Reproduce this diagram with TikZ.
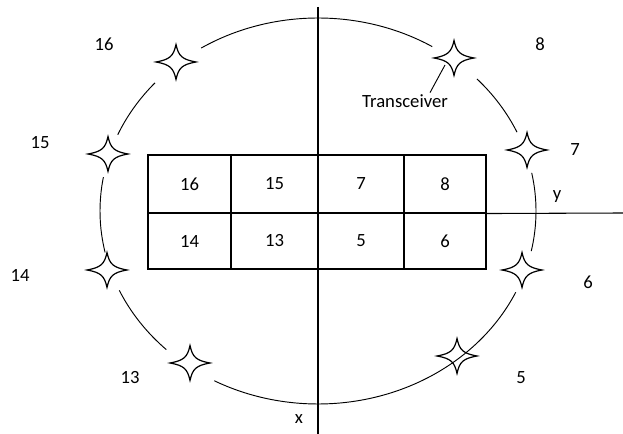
\documentclass[tikz,border=0pt]{standalone}
\usepackage{fontspec}
\setmainfont{Carlito}
\usetikzlibrary{calc}

\begin{document}
\begin{tikzpicture}[
  x=0.75pt,y=0.75pt,
  line width=0.8pt,
  cell/.style={rectangle,draw,inner sep=0pt,font=\fontsize{14}{16}\selectfont},
  label/.style={font=\fontsize{14}{16}\selectfont,inner sep=1pt},
  axis/.style={line width=0.8pt},
  ring/.style={line width=0.7pt},
  pics/trx/.style={code={
    \draw[line width=0.9pt] (20,0) .. controls (6,2.5) and (2.5,6) .. (0,17.5)
      .. controls (-2.5,6) and (-6,2.5) .. (-20,0)
      .. controls (-6,-2.5) and (-2.5,-6) .. (0,-17.5)
      .. controls (2.5,-6) and (6,-2.5) .. (20,0) -- cycle;}}
]
  \useasboundingbox (0,0) rectangle (623,434);

  % axes
  \coordinate (xtop) at (318,427);
  \coordinate (xbot) at (318,0);
  \coordinate (yend) at (623,221);
  \draw[axis] (xtop) -- (xbot);

  % broken ring, gaps at the transceivers
  \foreach \a/\b in {-12/11.4,24.1/43.2,58.4/122.4,138.4/156.7,169.9/192.4,
                     204.3/225.9,241.6/335.1}
    \draw[ring] ({318+218*cos(\a)},{223+193*sin(\a)})
      arc[start angle=\a,end angle=\b,x radius=218,y radius=193];

  % transceivers
  \coordinate (s16) at (176,372);
  \coordinate (s8)  at (454,376);
  \coordinate (s15) at (108,280);
  \coordinate (s7)  at (527,284);
  \coordinate (s14) at (107,164);
  \coordinate (s6)  at (522,164);
  \coordinate (s13) at (190,71);
  \coordinate (s5)  at (457,78);
  \foreach \s in {s16,s8,s15,s7,s14,s6,s13,s5}
    \pic at (\s) {trx};

  % grid of cells
  \node[cell,minimum width=62.25pt,minimum height=43.5pt] (c16) at (189.5,250) {16};
  \node[cell,minimum width=65.25pt,minimum height=43.5pt] (c15) at (274.5,250) {15};
  \node[cell,minimum width=64.5pt,minimum height=43.5pt] (c7)  at (361,250) {7};
  \node[cell,minimum width=61.5pt,minimum height=43.5pt] (c8)  at (445,250) {8};
  \node[cell,minimum width=62.25pt,minimum height=42pt] (c14) at (189.5,193) {14};
  \node[cell,minimum width=65.25pt,minimum height=42pt] (c13) at (274.5,193) {13};
  \node[cell,minimum width=64.5pt,minimum height=42pt] (c5)  at (361,193) {5};
  \node[cell,minimum width=61.5pt,minimum height=42pt] (c6)  at (445,193) {6};
  \draw[axis] (c8.south east) -- (yend);

  % outer labels
  \node[label] (l16) at (104,390) {16};
  \node[label] (l8)  at (540,390) {8};
  \node[label] (l15) at (40,291) {15};
  \node[label] (l7)  at (575,284) {7};
  \node[label] (l14) at (20,159) {14};
  \node[label] (l6)  at (588,152) {6};
  \node[label] (l13) at (130,56) {13};
  \node[label] (l5)  at (521,56) {5};
  \node[label] (lx)  at (299,15) {x};
  \node[label] (ly)  at (557,237) {y};

  \node[label] (tr) at (405,333) {Transceiver};
  \draw[line width=0.7pt] ([xshift=18.75pt]tr.north) -- ($(s8)+(-9,-7)$);
\end{tikzpicture}
\end{document}
